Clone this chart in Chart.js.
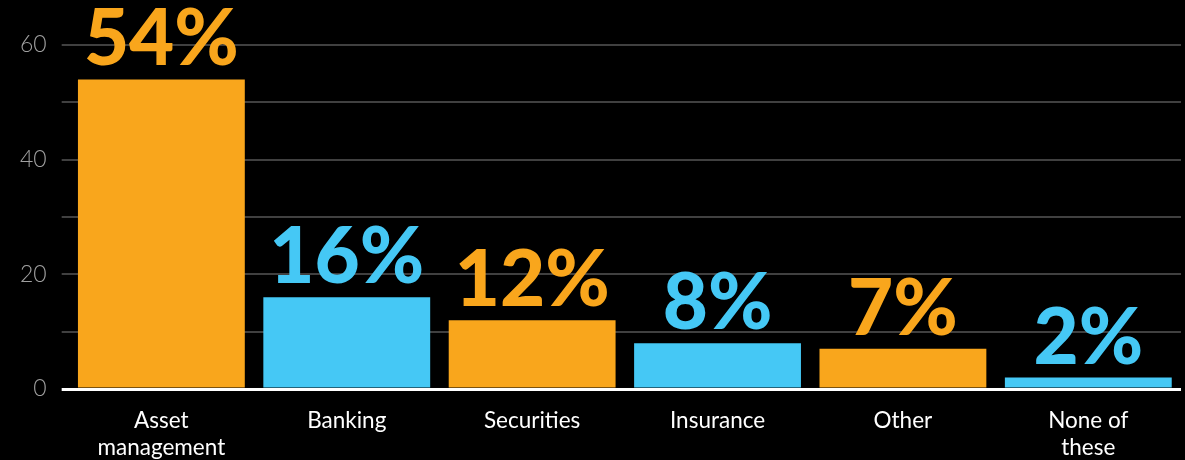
<!DOCTYPE html>
<html>
<head>
<meta charset="utf-8">
<script src="https://cdn.jsdelivr.net/npm/chart.js@4/dist/chart.umd.min.js"></script>
<style>
  body { margin: 0; background: #000; }
  #wrap { width: 1185px; height: 460px; }
</style>
</head>
<body>
<div id="wrap"><canvas id="sectorChart"></canvas></div>
<script>
let categories = [["Asset", "management"], "Banking", "Securities", "Insurance", "Other", ["None of", "these"]];
let shares = [54, 16, 12, 8, 7, 2];
let barColors = ["#F9A61C", "#45C8F5", "#F9A61C", "#45C8F5", "#F9A61C", "#45C8F5"];
let yTickLabels = [0, 20, 40, 60];

// big percentage labels above every bar
const valueLabels = {
    id: "valueLabels",
    afterDatasetsDraw(chart) {
        let ctx = chart.ctx;
        let meta = chart.getDatasetMeta(0);
        ctx.save();
        ctx.font = "900 78px Lato, 'DejaVu Sans', sans-serif";
        ctx.textAlign = "center";
        ctx.textBaseline = "alphabetic";
        meta.data.forEach((bar, i) => {
            ctx.fillStyle = barColors[i];
            ctx.fillText(shares[i] + "%", bar.x, bar.y - 14);
        });
        ctx.restore();
    }
};

new Chart(document.getElementById("sectorChart"), {
    type: "bar",
    data: {
        labels: categories,
        datasets: [{
            data: shares,
            backgroundColor: barColors,
            borderWidth: 0,
            barPercentage: 0.9,
            categoryPercentage: 1
        }]
    },
    options: {
        responsive: true,
        maintainAspectRatio: false,
        animation: false,
        layout: { padding: { top: 45, right: 4, left: 5, bottom: 0 } },
        plugins: {
            legend: { display: false },
            tooltip: { enabled: false }
        },
        scales: {
            x: {
                grid: { display: false, drawTicks: false },
                border: { display: false },
                afterFit: scale => { scale.height = 71; },
                ticks: {
                    color: "#ffffff",
                    padding: 18,
                    font: { family: "Lato, 'DejaVu Sans', sans-serif", size: 22.5, lineHeight: 1.2 },
                    maxRotation: 0
                }
            },
            y: {
                min: 0,
                max: 60,
                border: { display: false },
                grid: {
                    color: ctx => ctx.tick && ctx.tick.value === 0 ? "#ffffff" : "#404040",
                    lineWidth: ctx => ctx.tick && ctx.tick.value === 0 ? 3 : 2,
                    tickLength: 7
                },
                ticks: {
                    stepSize: 10,
                    color: "#a0a0a0",
                    padding: 15,
                    font: { family: "Lato, 'DejaVu Sans', sans-serif", size: 23, weight: 300 },
                    callback: v => yTickLabels.includes(v) ? v : ""
                }
            }
        }
    },
    plugins: [valueLabels]
});
</script>
</body>
</html>
